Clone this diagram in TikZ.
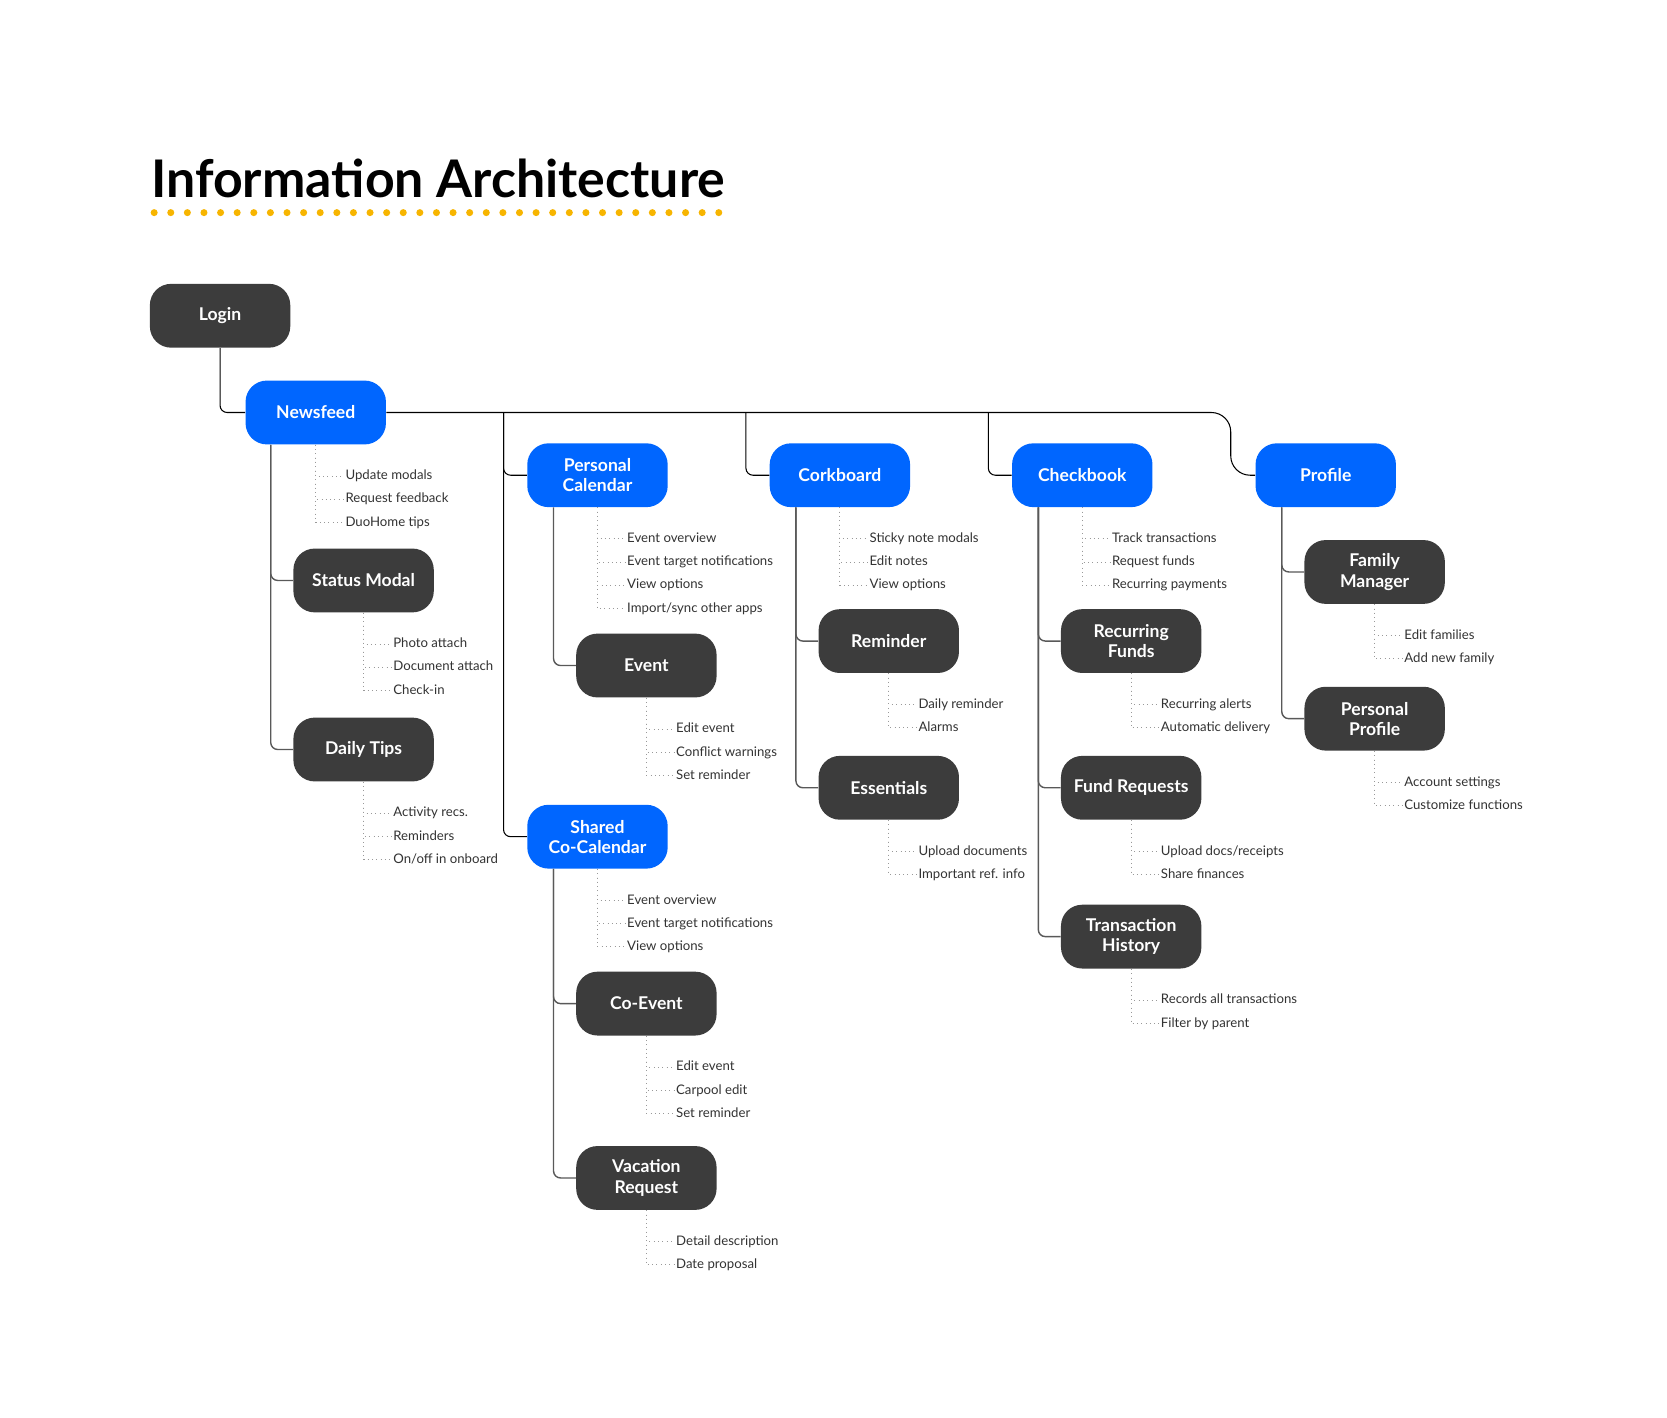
\documentclass[tikz,border=0pt]{standalone}
\usepackage{fontspec}
\setmainfont{Lato}
\usetikzlibrary{calc}
\definecolor{iablue}{HTML}{0066FF}
\definecolor{iadark}{HTML}{3C3C3C}
\definecolor{iatext}{HTML}{333333}
\definecolor{iagold}{HTML}{F7B500}
\tikzset{
  page/.style={rounded corners=0.425cm, minimum width=2.807cm, minimum height=1.276cm,
    inner sep=0pt, align=center, text=white, font=\bfseries\fontsize{10}{11.5}\selectfont},
  mainpage/.style={page, fill=iablue},
  subpage/.style={page, fill=iadark},
  leaf/.style={anchor=west, inner sep=1pt, text height=6pt, text depth=1.8pt,
    text=iatext, font=\fontsize{7.5}{9}\selectfont},
  trunk/.style={draw=black, line width=0.6pt, rounded corners=4pt},
  branch/.style={draw=black!65, line width=0.8pt, rounded corners=4pt},
  twig/.style={draw=black!40, dotted, line width=0.45pt},
}
% sub items hanging under a page
\newcommand{\leaves}[2]{%
  \foreach \txt [count=\k] in {#2}{%
    \node[leaf] (#1-\k) at ($(#1.south)+(26,{29.5+(\k-1)*21.8})$) {\txt};
    \draw[twig] (#1.south) |- (#1-\k.west);
  }}

\begin{document}
\begin{tikzpicture}[x=0.021262cm, y=-0.021262cm]
\useasboundingbox[fill=white] (0,0) rectangle (1568,1333);

% title
\node[anchor=base west, inner sep=0pt, font=\bfseries\fontsize{29.5}{30}\selectfont] (title) at (142,186) {Information Architecture};
\foreach \i in {0,...,34}
  \fill[iagold] ({145+\i*15.62},200) circle (2pt);

% pages
\node[subpage] (login) at (207,297) {Login};
\node[mainpage] (newsfeed) at (297,388) {Newsfeed};
\node[mainpage] (pcal) at (562,447) {Personal\\Calendar};
\node[mainpage] (cork) at (790,447) {Corkboard};
\node[mainpage] (check) at (1018,447) {Checkbook};
\node[mainpage] (profile) at (1247,447) {Profile};
\node[mainpage] (scal) at (562,787) {Shared\\Co-Calendar};

\node[subpage] (status) at (342,546) {Status Modal};
\node[subpage] (daily) at (342,705) {Daily Tips};
\node[subpage] (event) at (608,626) {Event};
\node[subpage] (coevent) at (608,944) {Co-Event};
\node[subpage] (vacation) at (608,1108) {Vacation\\Request};
\node[subpage] (reminder) at (836,603) {Reminder};
\node[subpage] (essentials) at (836,741) {Essentials};
\node[subpage] (recfunds) at (1064,603) {Recurring\\Funds};
\node[subpage] (fundreq) at (1064,741) {Fund Requests};
\node[subpage] (transhist) at (1064,881) {Transaction\\History};
\node[subpage] (family) at (1293,538) {Family\\Manager};
\node[subpage] (pprofile) at (1293,676) {Personal\\Profile};

% main links
\draw[trunk] (login.south) |- (newsfeed.west);
\draw[trunk] (newsfeed.east) [rounded corners=11pt] -| ($(profile.west)+(-23,0)$) [rounded corners=4pt] -- (profile.west);
\draw[trunk] ($(newsfeed.east -| pcal.west)+(-22,0)$) |- (pcal.west);
\draw[trunk] ($(newsfeed.east -| scal.west)+(-22,0)$) |- (scal.west);
\draw[trunk] ($(newsfeed.east -| cork.west)+(-22,0)$) |- (cork.west);
\draw[trunk] ($(newsfeed.east -| check.west)+(-22,0)$) |- (check.west);

% child links
\draw[branch] ($(newsfeed.south west)+(24,0)$) |- (status.west);
\draw[branch] ($(newsfeed.south west)+(24,0)$) |- (daily.west);
\draw[branch] ($(pcal.south west)+(25,0)$) |- (event.west);
\draw[branch] ($(scal.south west)+(25,0)$) |- (coevent.west);
\draw[branch] ($(scal.south west)+(25,0)$) |- (vacation.west);
\draw[branch] ($(cork.south west)+(25,0)$) |- (reminder.west);
\draw[branch] ($(cork.south west)+(25,0)$) |- (essentials.west);
\draw[branch] ($(check.south west)+(25,0)$) |- (recfunds.west);
\draw[branch] ($(check.south west)+(25,0)$) |- (fundreq.west);
\draw[branch] ($(check.south west)+(25,0)$) |- (transhist.west);
\draw[branch] ($(profile.south west)+(25,0)$) |- (family.west);
\draw[branch] ($(profile.south west)+(25,0)$) |- (pprofile.west);

% items
\leaves{newsfeed}{Update modals, Request feedback, DuoHome tips}
\leaves{status}{Photo attach, Document attach, Check-in}
\leaves{daily}{Activity recs., Reminders, On/off in onboard}
\leaves{pcal}{Event overview, Event target notifications, View options, Import/sync other apps}
\leaves{event}{Edit event, Conflict warnings, Set reminder}
\leaves{scal}{Event overview, Event target notifications, View options}
\leaves{coevent}{Edit event, Carpool edit, Set reminder}
\leaves{vacation}{Detail description, Date proposal}
\leaves{cork}{Sticky note modals, Edit notes, View options}
\leaves{reminder}{Daily reminder, Alarms}
\leaves{essentials}{Upload documents, Important ref. info}
\leaves{check}{Track transactions, Request funds, Recurring payments}
\leaves{recfunds}{Recurring alerts, Automatic delivery}
\leaves{fundreq}{Upload docs/receipts, Share finances}
\leaves{transhist}{Records all transactions, Filter by parent}
\leaves{family}{Edit families, Add new family}
\leaves{pprofile}{Account settings, Customize functions}
\end{tikzpicture}
\end{document}
